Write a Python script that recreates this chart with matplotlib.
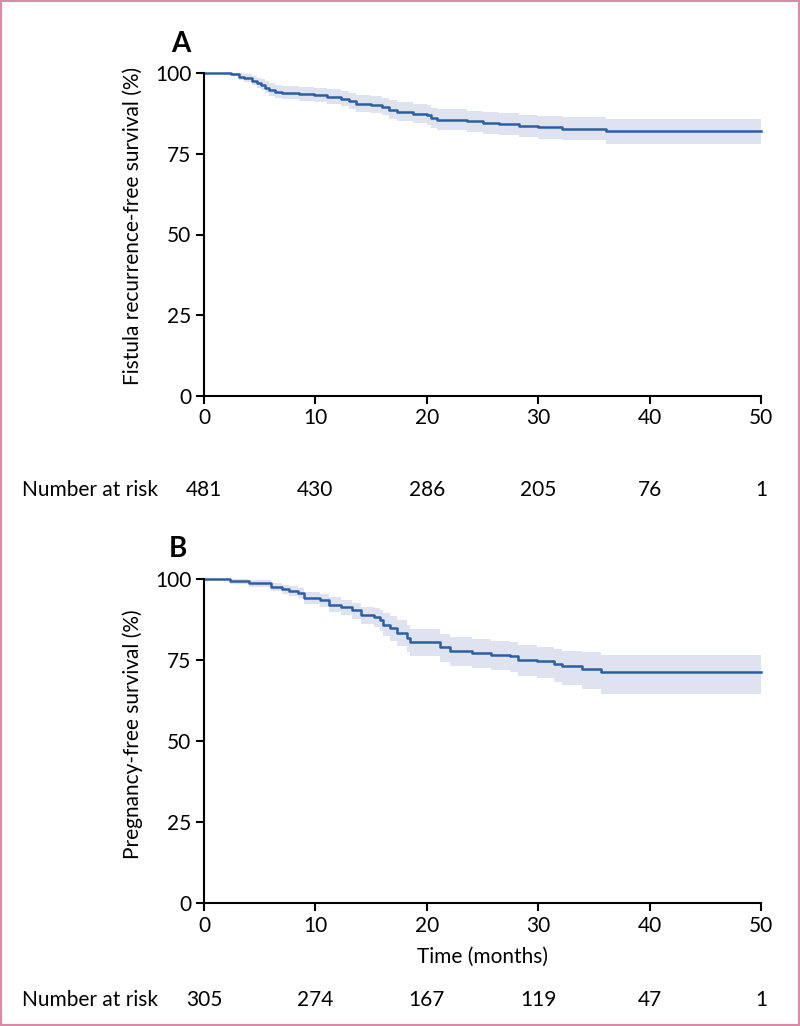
import matplotlib
matplotlib.use("Agg")
import matplotlib.pyplot as plt
from matplotlib.patches import Rectangle
import matplotlib.transforms as mtransforms

plt.rcParams['font.family'] = ['Lato', 'DejaVu Sans']

# ---------------- data ----------------
# Panel A: fistula recurrence-free survival
t_A = [0, 2.4, 3.1, 3.6, 4.3, 4.8, 5.1, 5.5, 5.8, 6.4, 7.0, 8.5, 9.9, 11.0, 12.3, 13.0, 13.6, 15.0, 16.0,
       16.6, 17.3, 18.8, 20.0, 20.4, 20.9, 23.6, 25.0, 26.5, 28.3, 30.0, 32.1, 36.1, 50]
s_A = [100, 99.6, 98.8, 98.3, 97.6, 96.9, 96.3, 95.5, 94.8, 94.2, 93.8, 93.5, 93.1, 92.6, 92.0, 91.2, 90.5,
       90.1, 89.5, 88.6, 88.0, 87.4, 87.0, 86.2, 85.6, 85.0, 84.5, 84.1, 83.6, 83.2, 82.8, 82.0, 82.0]
up_A = [100, 100, 99.9, 99.6, 99.1, 98.6, 98.1, 97.4, 96.8, 96.3, 95.9, 95.7, 95.4, 95.0, 94.5, 93.8, 93.2,
        92.8, 92.3, 91.5, 91.0, 90.4, 90.0, 89.3, 88.8, 88.3, 87.9, 87.5, 87.1, 86.8, 86.4, 85.8, 85.8]
lo_A = [100, 99.0, 97.9, 97.2, 96.3, 95.5, 94.7, 93.8, 93.0, 92.3, 91.8, 91.4, 91.0, 90.4, 89.7, 88.8, 88.0,
        87.6, 86.9, 85.9, 85.2, 84.5, 84.0, 83.1, 82.4, 81.8, 81.2, 80.7, 80.2, 79.6, 79.2, 78.0, 78.0]

# Panel B: pregnancy-free survival
t_B = [0, 2.3, 4.0, 6.0, 7.0, 7.6, 8.4, 9.0, 10.4, 11.2, 12.3, 13.3, 14.1, 15.3, 15.8, 16.1, 16.7,
       17.3, 18.2, 18.5, 21.2, 22.1, 24.1, 25.8, 27.5, 28.2, 29.9, 31.4, 32.1, 33.9, 35.6, 50]
s_B = [100, 99.5, 98.7, 97.6, 96.8, 96.3, 95.6, 94.1, 93.5, 92.0, 91.5, 90.5, 88.9, 88.2, 87.4, 85.8, 84.8,
       83.3, 81.7, 80.7, 79.0, 77.8, 77.1, 76.6, 76.1, 75.1, 74.6, 73.7, 73.0, 72.2, 71.2, 71.2]
up_B = [100, 100, 99.6, 98.9, 98.2, 97.8, 97.2, 95.9, 95.5, 94.3, 93.5, 92.7, 91.5, 91.0, 90.5, 89.5, 88.5,
        87.2, 85.8, 84.5, 83.0, 82.0, 81.5, 81.0, 80.5, 79.6, 79.0, 78.4, 77.9, 77.4, 76.6, 76.6]
lo_B = [100, 98.6, 97.6, 96.3, 95.3, 94.8, 94.0, 92.4, 91.3, 89.7, 89.0, 87.8, 86.0, 85.2, 84.0, 82.3, 81.0,
        79.3, 77.5, 76.2, 74.5, 73.3, 72.6, 72.0, 71.3, 70.2, 69.3, 68.2, 67.4, 66.2, 64.6, 64.6]

risk_times = [0, 10, 20, 30, 40, 50]
risk_A = [481, 430, 286, 205, 76, 1]
risk_B = [305, 274, 167, 119, 47, 1]

yticks = [0, 25, 50, 75, 100]
xticks = [0, 10, 20, 30, 40, 50]

ylabel_A = "Fistula recurrence-free survival (%)"
ylabel_B = "Pregnancy-free survival (%)"
xlabel_B = "Time (months)"

# ---------------- style ----------------
line_col = "#2b5fa3"
band_col = "#dfe2ef"
fs = 15

fig = plt.figure(figsize=(8.0, 10.26), dpi=100)
W, H = 800, 1026


def make_axes(top_px, bottom_px):
    left_px, right_px = 204, 761
    return fig.add_axes([left_px / W, 1 - bottom_px / H,
                         (right_px - left_px) / W, (bottom_px - top_px) / H])


def style(ax):
    ax.set_xlim(0, 50)
    ax.set_ylim(0, 100)
    for s in ("top", "right"):
        ax.spines[s].set_visible(False)
    for s in ("left", "bottom"):
        ax.spines[s].set_linewidth(1.5)
    ax.set_xticks(xticks)
    ax.set_yticks(yticks)
    ax.tick_params(direction="out", length=6, width=1.5, labelsize=fs, pad=3)


def draw(ax, t, s, up, lo):
    ax.fill_between(t, lo, up, step="post", color=band_col, linewidth=0, clip_on=False)
    ax.step(t, s, where="post", color=line_col, linewidth=1.8, clip_on=False)


axA = make_axes(73, 396)
draw(axA, t_A, s_A, up_A, lo_A)
style(axA)
axA.set_ylabel(ylabel_A, fontsize=fs)
axA.yaxis.set_label_coords(-0.11, 0.525)

axB = make_axes(579, 903)
draw(axB, t_B, s_B, up_B, lo_B)
style(axB)
axB.set_ylabel(ylabel_B, fontsize=fs)
axB.yaxis.set_label_coords(-0.11, 0.52)
axB.set_xlabel(xlabel_B, fontsize=fs, labelpad=8)

# panel letters
fig.text(181 / W, 1 - 44 / H, "A", fontsize=20, fontweight="bold", ha="center", va="center")
fig.text(178 / W, 1 - 549 / H, "B", fontsize=20, fontweight="bold", ha="center", va="center")

# number at risk rows
for ax, vals, ypx in ((axA, risk_A, 490), (axB, risk_B, 1000)):
    tr = mtransforms.blended_transform_factory(ax.transData, fig.transFigure)
    fig.text(22 / W, 1 - ypx / H, "Number at risk", fontsize=fs, ha="left", va="center")
    for tt, v in zip(risk_times, vals):
        ax.text(tt, 1 - ypx / H, str(v), transform=tr, fontsize=fs, ha="center", va="center",
                clip_on=False)

# pink frame
fig.patches.append(Rectangle((0, 0), 1, 1, transform=fig.transFigure, fill=False,
                             edgecolor="#d88aa6", linewidth=3))

fig.savefig("out.png", dpi=100)
